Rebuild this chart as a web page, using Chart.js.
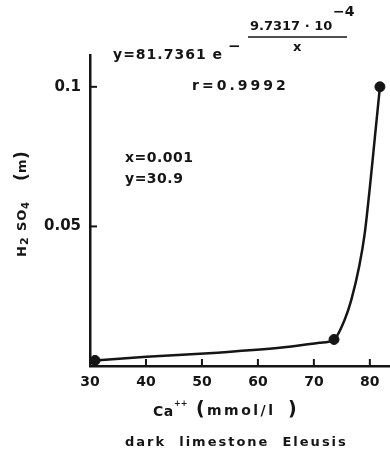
<!DOCTYPE html>
<html>
<head>
<meta charset="utf-8">
<script src="https://cdn.jsdelivr.net/npm/chart.js@4/dist/chart.umd.min.js"></script>
<style>
  html, body { margin: 0; padding: 0; background: #fff; }
  #wrap { width: 390px; height: 457px; position: relative; }
</style>
</head>
<body>
<div id="wrap"><canvas id="chart"></canvas></div>
<script>
// Ca++ (mmol/l) vs H2SO4 (m)
const curveCa   = [30.9, 40.1, 52.0, 63.9, 71.0, 73.6, 75.5, 76.7, 78.1, 79.1, 80.0, 80.9, 81.8];
const curveAcid = [0.002, 0.0033, 0.0047, 0.0065, 0.0083, 0.0095, 0.0166, 0.0238, 0.0357, 0.0477, 0.064, 0.082, 0.1];

const pointCa   = [30.9, 73.6, 81.8];
const pointAcid = [0.002, 0.0095, 0.1];

const xTicks = [30, 40, 50, 60, 70, 80];
const yTicks = [0.05, 0.1];

const ink = "#151515";
const FONT = "'DejaVu Sans', sans-serif";

function txt(ctx, t, x, y, size, spacing) {
  ctx.font = "bold " + size + "px " + FONT;
  ctx.letterSpacing = (spacing || 0) + "px";
  ctx.fillText(t, x, y);
}

// inner tick marks + all the annotations
const notes = {
  id: "notes",
  afterDraw(chart) {
    const ctx = chart.ctx;
    const xs = chart.scales.x, ys = chart.scales.y;
    const area = chart.chartArea;
    ctx.save();
    ctx.strokeStyle = ink;
    ctx.fillStyle = ink;
    ctx.lineWidth = 2;
    xTicks.slice(1).forEach(v => {
      const px = xs.getPixelForValue(v);
      ctx.beginPath();
      ctx.moveTo(px, area.bottom);
      ctx.lineTo(px, area.bottom - 7);
      ctx.stroke();
    });
    yTicks.forEach(v => {
      const py = ys.getPixelForValue(v);
      ctx.beginPath();
      ctx.moveTo(area.left, py);
      ctx.lineTo(area.left + 7, py);
      ctx.stroke();
    });

    ctx.textBaseline = "middle";
    ctx.textAlign = "left";
    // equation
    txt(ctx, "y=81.7361 e", 113, 55, 14, 1);
    txt(ctx, "−", 228, 47, 15, 0);
    txt(ctx, "9.7317 · 10", 250, 27, 13, 0);
    txt(ctx, "−4", 333, 12, 14, 0);
    txt(ctx, "x", 293, 48, 13, 0);
    ctx.lineWidth = 1.5;
    ctx.beginPath();
    ctx.moveTo(248, 37);
    ctx.lineTo(347, 37);
    ctx.stroke();

    txt(ctx, "r=0.9992", 192, 86, 14, 3);
    txt(ctx, "x=0.001", 125, 158, 14, 0.5);
    txt(ctx, "y=30.9", 125, 179, 14, 0.5);

    // x axis title
    txt(ctx, "Ca", 153, 412, 14, 0.5);
    txt(ctx, "++", 174, 404, 8, 0);
    txt(ctx, "(", 196, 410, 19, 0);
    txt(ctx, "mmol/l", 207, 411, 14, 2.5);
    txt(ctx, ")", 288, 410, 19, 0);

    txt(ctx, "dark  limestone  Eleusis", 125, 443, 13, 2);

    // y axis title, rotated (pieces placed along the axis)
    ctx.translate(23, 0);
    ctx.rotate(-Math.PI / 2);
    txt(ctx, "H", -257, 0, 13, 0);
    txt(ctx, "2", -245, 2, 11, 0);
    txt(ctx, "SO", -231, 0, 13, 1);
    txt(ctx, "4", -209, 3, 10, 0);
    txt(ctx, "(", -181, 0, 17, 0);
    txt(ctx, "m", -173, 0, 13, 0);
    txt(ctx, ")", -159, 0, 17, 0);
    ctx.restore();
  }
};

new Chart(document.getElementById("chart"), {
  type: "scatter",
  data: {
    datasets: [
      {
        data: curveCa.map((c, i) => ({ x: c, y: curveAcid[i] })),
        showLine: true,
        borderColor: ink,
        borderWidth: 2.5,
        pointRadius: 0,
        cubicInterpolationMode: "monotone"
      },
      {
        data: pointCa.map((c, i) => ({ x: c, y: pointAcid[i] })),
        backgroundColor: ink,
        borderColor: ink,
        pointRadius: 5,
        showLine: false
      }
    ]
  },
  options: {
    responsive: true,
    maintainAspectRatio: false,
    animation: false,
    layout: { autoPadding: false, padding: { top: 55, right: 0, left: 0, bottom: 0 } },
    plugins: { legend: { display: false }, tooltip: { enabled: false } },
    scales: {
      x: {
        type: "linear",
        min: 30,
        max: 83.6,
        grid: { display: false },
        border: { display: true, color: ink, width: 2.5 },
        afterBuildTicks: s => { s.ticks = xTicks.map(v => ({ value: v })); },
        afterFit: s => { s.height = 91; s.paddingLeft = 0; s.paddingRight = 0; },
        ticks: {
          color: ink,
          padding: 0,
          maxRotation: 0,
          font: { family: FONT, size: 14, weight: "bold" }
        }
      },
      y: {
        min: 0,
        max: 0.1114,
        grid: { display: false },
        border: { display: true, color: ink, width: 2.5 },
        afterBuildTicks: s => { s.ticks = yTicks.map(v => ({ value: v })); },
        afterFit: s => { s.width = 90; s.paddingTop = 0; s.paddingBottom = 0; },
        ticks: {
          color: ink,
          padding: 1,
          font: { family: FONT, size: 15, weight: "bold" },
          callback: v => String(v)
        }
      }
    }
  },
  plugins: [notes]
});
</script>
</body>
</html>
